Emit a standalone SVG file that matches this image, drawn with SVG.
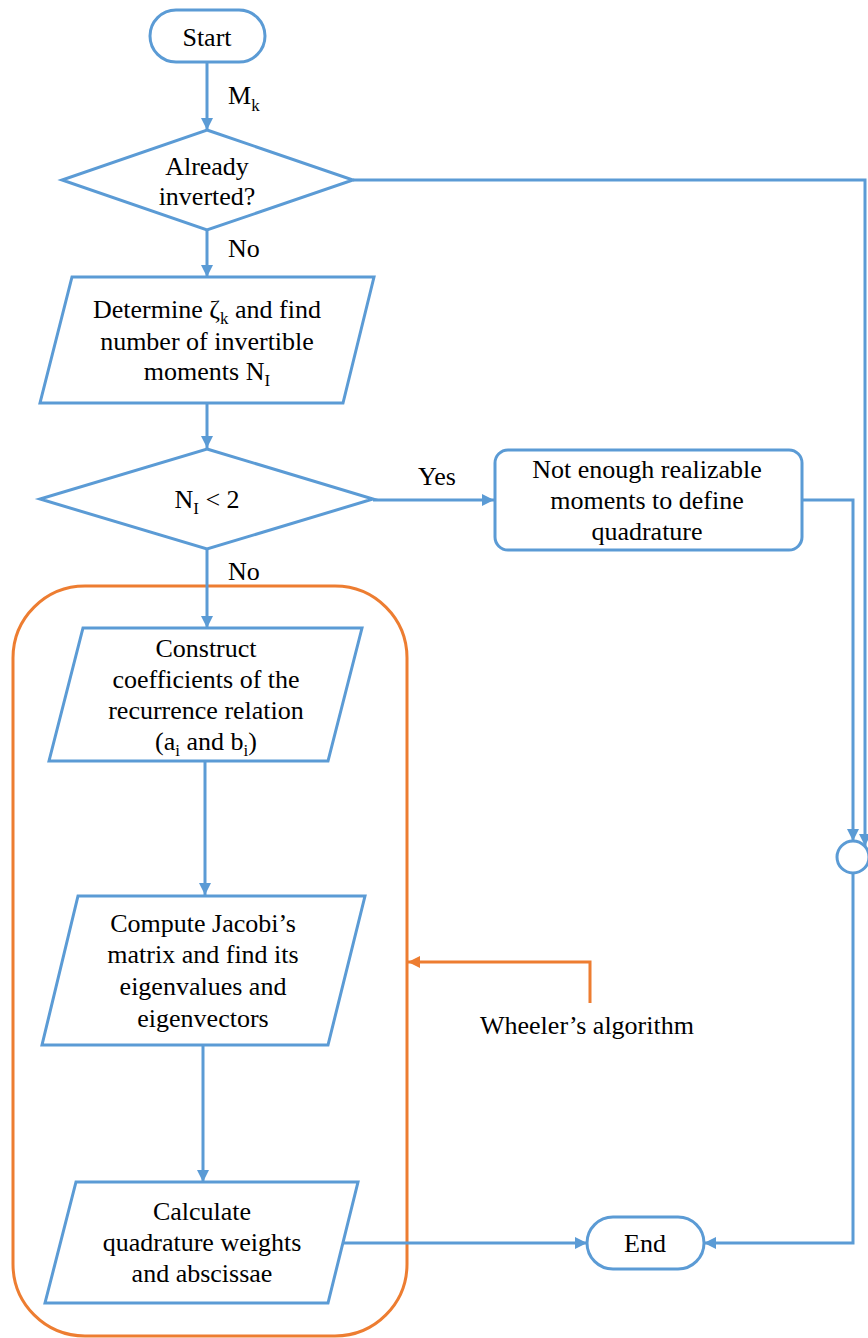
<svg xmlns="http://www.w3.org/2000/svg" width="868" height="1338" viewBox="0 0 868 1338">
<style>
.n{fill:#fff;stroke:#5B9BD5;stroke-width:3}
.c{fill:none;stroke:#5B9BD5;stroke-width:3}
.o{fill:none;stroke:#ED7D31;stroke-width:3}
text{font-family:'Liberation Serif','Times New Roman','DejaVu Serif',serif;font-size:26px;fill:#000}
.m{text-anchor:middle}
.s{font-size:17px}
</style>
<defs>
<marker id="ab" markerUnits="userSpaceOnUse" markerWidth="12" markerHeight="12" viewBox="0 0 12 12" refX="12" refY="6" orient="auto"><path d="M0,0 L12,6 L0,12 z" fill="#5B9BD5"/></marker>
<marker id="ao" markerUnits="userSpaceOnUse" markerWidth="12" markerHeight="12" viewBox="0 0 12 12" refX="12" refY="6" orient="auto"><path d="M0,0 L12,6 L0,12 z" fill="#ED7D31"/></marker>
</defs>
<rect x="0" y="0" width="868" height="1338" fill="#fff"/>
<g id="wheeler-group"><rect class="o" x="13" y="586" width="394" height="750" rx="72"/></g>
<g id="connectors">
<path class="c" d="M207,62 V130" marker-end="url(#ab)"/>
<path class="c" d="M207,230 V277" marker-end="url(#ab)"/>
<path class="c" d="M207,403 V448" marker-end="url(#ab)"/>
<path class="c" d="M373,500 H494" marker-end="url(#ab)"/>
<path class="c" d="M207,549 V628" marker-end="url(#ab)"/>
<path class="c" d="M205,761 V895" marker-end="url(#ab)"/>
<path class="c" d="M203,1044 V1182" marker-end="url(#ab)"/>
<path class="c" d="M343,1243 H587" marker-end="url(#ab)"/>
<path class="c" d="M353,180 H865 V846" marker-end="url(#ab)"/>
<path class="c" d="M802,500 H853 V841" marker-end="url(#ab)"/>
<path class="c" d="M853,873 V1243 H704" marker-end="url(#ab)"/>
<path class="o" d="M590,1003 V962 H408" marker-end="url(#ao)"/>
</g>
<g font-family="'Liberation Serif', 'Times New Roman', serif">
<g id="labels">
<text x="228" y="104">M<tspan class="s" dy="7">k</tspan></text>
<text x="228" y="257">No</text>
<text x="418" y="485">Yes</text>
<text x="228" y="580">No</text>
<text x="480" y="1034">Wheeler’s algorithm</text>
</g>
<g id="start"><rect class="n" x="150" y="10" width="115" height="52" rx="26"/><text class="m" x="207" y="46">Start</text></g>
<g id="already"><polygon class="n" points="207,130 353,180 207,230 62,180"/><text class="m" x="207" y="175">Already</text><text class="m" x="207" y="205">inverted?</text></g>
<g id="determine"><polygon class="n" points="72,277 374,277 343,403 40,403"/>
<text class="m" x="207" y="318">Determine ζ<tspan class="s" dy="6">k</tspan><tspan dy="-6"> and find</tspan></text>
<text class="m" x="207" y="350">number of invertible</text>
<text class="m" x="207" y="380">moments N<tspan class="s" dy="6">I</tspan></text></g>
<g id="ni"><polygon class="n" points="207,449 373,499 207,549 40,499"/><text class="m" x="207" y="508">N<tspan class="s" dy="6">I</tspan><tspan dy="-6"> &lt; 2</tspan></text></g>
<g id="notenough"><rect class="n" x="495" y="450" width="307" height="100" rx="13"/>
<text class="m" x="647" y="478">Not enough realizable</text>
<text class="m" x="647" y="509">moments to define</text>
<text class="m" x="647" y="540">quadrature</text></g>
<g id="construct"><polygon class="n" points="83,628 362,628 328,761 49,761"/>
<text class="m" x="206" y="657">Construct</text>
<text class="m" x="206" y="688">coefficients of the</text>
<text class="m" x="206" y="719">recurrence relation</text>
<text class="m" x="206" y="750">(a<tspan class="s" dy="6">i</tspan><tspan dy="-6"> and b</tspan><tspan class="s" dy="6">i</tspan><tspan dy="-6">)</tspan></text></g>
<g id="compute"><polygon class="n" points="78,896 365,896 328,1045 42,1045"/>
<text class="m" x="203" y="932">Compute Jacobi’s</text>
<text class="m" x="203" y="963">matrix and find its</text>
<text class="m" x="203" y="995">eigenvalues and</text>
<text class="m" x="203" y="1027">eigenvectors</text></g>
<g id="calculate"><polygon class="n" points="76,1182 358,1182 328,1303 45,1303"/>
<text class="m" x="202" y="1220">Calculate</text>
<text class="m" x="202" y="1251">quadrature weights</text>
<text class="m" x="202" y="1282">and abscissae</text></g>
<g id="junction"><circle class="n" cx="853" cy="857" r="16"/></g>
<g id="end"><rect class="n" x="587" y="1217" width="117" height="52" rx="26"/><text class="m" x="645" y="1252">End</text></g>
</g>
</svg>
